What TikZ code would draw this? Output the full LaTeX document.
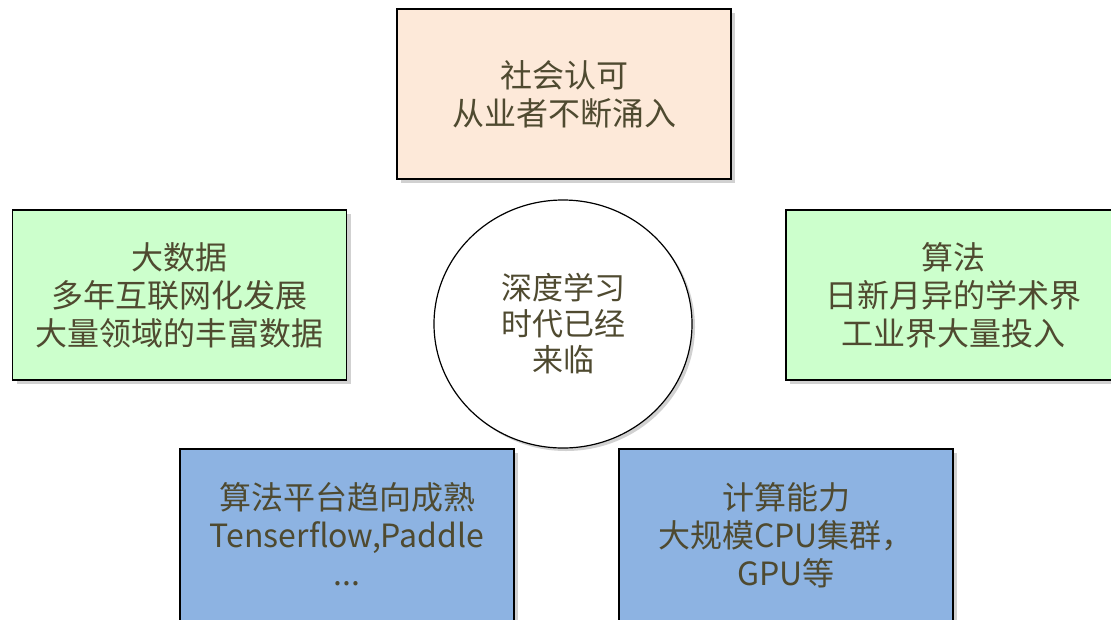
\documentclass[tikz,border=0pt]{standalone}
\usepackage{fontspec}
\setmainfont{Noto Sans CJK SC}
\usepackage{tikz}
\usetikzlibrary{shapes.geometric,shadows}

\definecolor{ink}{HTML}{4F4A30}
\definecolor{peachfill}{HTML}{FDE9D9}
\definecolor{greenfill}{HTML}{CCFFCC}
\definecolor{bluefill}{HTML}{8DB3E2}

\begin{document}
\begin{tikzpicture}[x = 1pt, y = -1pt, line width = 1.2pt,
                        card/.style = {rectangle, draw, minimum width = 334pt, minimum height = 170pt,
                                       align = center, text = ink, font = \fontsize{32}{38}\selectfont,
                                       drop shadow = {shadow xshift = 4pt, shadow yshift = -4pt,
                                                      fill = black, opacity = 0.18}},
                        topbox/.style = {card, fill = peachfill},
                        databox/.style = {card, fill = greenfill},
                        basebox/.style = {card, fill = bluefill, minimum height = 200pt, text depth = 30pt},
                        hub/.style = {ellipse, draw, fill = white, minimum width = 258pt, minimum height = 248pt,
                                      align = center, text = ink, font = \fontsize{31}{36}\selectfont,
                                      drop shadow = {shadow xshift = 3pt, shadow yshift = -3pt,
                                                     fill = black, opacity = 0.18}}]
      \useasboundingbox (0, 0) rectangle (1111, 619);
      \node [topbox] (social) at (564, 94) {社会认可\\从业者不断涌入};
      \node [databox] (data) at (179.5, 295) {大数据\\多年互联网化发展\\大量领域的丰富数据};
      \node [databox] (algo) at (953, 295) {算法\\日新月异的学术界\\工业界大量投入};
      \node [basebox] (platform) at (347, 549) {算法平台趋向成熟\\Tenserflow,Paddle\\...};
      \node [basebox] (compute) at (786, 549) {计算能力\\大规模CPU集群，\\GPU等};
      \node [hub] (era) at (563, 324) {深度学习\\时代已经\\来临};
    \end{tikzpicture}
\end{document}
